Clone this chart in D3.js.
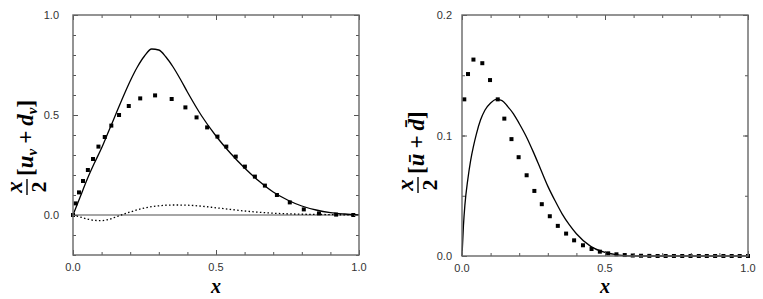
<!DOCTYPE html>
<html>
<head>
<meta charset="utf-8">
<script src="https://cdn.jsdelivr.net/npm/d3@7"></script>
<style>
    body { margin: 0; background: #fff; }
    svg { display: block; }
    .tick-label { font-family: "Liberation Sans", Arial, sans-serif; font-size: 11px; fill: #333; }
    .math { font-family: "Liberation Serif", "DejaVu Serif", serif; fill: #000; }
</style>
</head>
<body>
<div id="chart"></div>
<script>

// left panel: x/2 [u_v + d_v]
const left_curve_x = [0, 0.025, 0.05, 0.075, 0.1, 0.125, 0.15, 0.175, 0.2, 0.225, 0.25, 0.275, 0.3, 0.325, 0.35, 0.375, 0.4, 0.45, 0.5, 0.55, 0.6, 0.65, 0.7, 0.75, 0.8, 0.85, 0.9, 0.95, 1.0];
const left_curve_y = [0, 0.09, 0.18, 0.26, 0.335, 0.42, 0.505, 0.59, 0.67, 0.74, 0.795, 0.83, 0.825, 0.79, 0.74, 0.68, 0.615, 0.495, 0.395, 0.31, 0.235, 0.17, 0.115, 0.075, 0.045, 0.025, 0.012, 0.005, 0];

const left_dotted_x = [0, 0.025, 0.05, 0.075, 0.1, 0.125, 0.15, 0.175, 0.2, 0.25, 0.3, 0.35, 0.4, 0.45, 0.5, 0.55, 0.6, 0.65, 0.7, 0.75, 0.8, 0.85, 0.9, 1.0];
const left_dotted_y = [0, -0.01, -0.02, -0.027, -0.028, -0.022, -0.01, 0.003, 0.015, 0.035, 0.046, 0.05, 0.049, 0.044, 0.036, 0.028, 0.02, 0.014, 0.009, 0.006, 0.004, 0.003, 0.002, 0];

const left_points_x = [0, 0.009, 0.021, 0.035, 0.052, 0.07, 0.089, 0.111, 0.134, 0.161, 0.195, 0.235, 0.287, 0.345, 0.393, 0.432, 0.469, 0.505, 0.536, 0.569, 0.601, 0.636, 0.671, 0.713, 0.758, 0.807, 0.86, 0.92, 0.98];
const left_points_y = [0, 0.058, 0.113, 0.17, 0.225, 0.28, 0.342, 0.39, 0.447, 0.5, 0.545, 0.583, 0.598, 0.58, 0.538, 0.488, 0.438, 0.392, 0.342, 0.292, 0.242, 0.192, 0.147, 0.1, 0.063, 0.028, 0.008, 0.002, 0];

// right panel: x/2 [ubar + dbar]
const right_curve_x = [0, 0.005, 0.01, 0.02, 0.03, 0.04, 0.05, 0.065, 0.08, 0.1, 0.12, 0.14, 0.16, 0.18, 0.2, 0.225, 0.25, 0.275, 0.3, 0.325, 0.35, 0.375, 0.4, 0.45, 0.5, 0.55, 0.6, 0.7, 0.8, 0.9, 1.0];
const right_curve_y = [0, 0.025, 0.042, 0.063, 0.079, 0.091, 0.101, 0.113, 0.121, 0.127, 0.130, 0.129, 0.124, 0.118, 0.110, 0.099, 0.086, 0.072, 0.058, 0.046, 0.035, 0.026, 0.0185, 0.008, 0.003, 0.0008, 0, 0, 0, 0, 0];

const right_points_x = [0.008, 0.021, 0.04, 0.071, 0.098, 0.125, 0.148, 0.173, 0.198, 0.226, 0.253, 0.279, 0.307, 0.335, 0.364, 0.392, 0.423, 0.453, 0.482, 0.511, 0.54, 0.569, 0.597, 0.626, 0.655, 0.684, 0.712, 0.741, 0.77, 0.799, 0.828, 0.856, 0.885, 0.914, 0.943, 0.971, 1.0];
const right_points_y = [0.130, 0.151, 0.163, 0.160, 0.146, 0.130, 0.114, 0.097, 0.082, 0.067, 0.054, 0.043, 0.033, 0.025, 0.0186, 0.013, 0.0089, 0.0058, 0.0036, 0.0022, 0.0014, 0.0008, 0.0004, 0.0002, 0.0001, 0, 0, 0, 0, 0, 0, 0, 0, 0, 0, 0, 0];

const x_ticks_major = [0, 0.5, 1.0];
const left_y_ticks_major = [0, 0.5, 1.0];
const right_y_ticks_major = [0, 0.1, 0.2];

const full_width = 763;
const full_height = 299;

const svg = d3.select("#chart")
    .append("svg")
    .attr("width", full_width)
    .attr("height", full_height);

function zip(xs, ys) {
    return xs.map((x, i) => ({x: x, y: ys[i]}));
}

function drawPanel(opts) {
    let x = d3.scaleLinear().domain([0, 1]).range([opts.left, opts.right]);
    let y = d3.scaleLinear().domain(opts.y_domain).range([opts.bottom, opts.top]);

    let g = svg.append("g");

    // zero line (left panel only)
    if (opts.zero_line) {
        g.append("line")
            .attr("x1", x(0)).attr("x2", x(1))
            .attr("y1", y(0)).attr("y2", y(0))
            .attr("stroke", "#888").attr("stroke-width", 1.6);
    }

    let line = d3.line()
        .curve(d3.curveMonotoneX)
        .x(d => x(d.x))
        .y(d => y(d.y));

    if (opts.dotted) {
        g.append("path")
            .attr("d", line(opts.dotted))
            .attr("fill", "none")
            .attr("stroke", "#000")
            .attr("stroke-width", 1.3)
            .attr("stroke-dasharray", "1.5,2.3");
    }

    g.append("path")
        .attr("d", line(opts.curve))
        .attr("fill", "none")
        .attr("stroke", "#000")
        .attr("stroke-width", 1.3);

    g.selectAll("rect.pt")
        .data(opts.points)
        .enter()
        .append("rect")
        .attr("class", "pt")
        .attr("x", d => x(d.x) - 2)
        .attr("y", d => y(d.y) - 2)
        .attr("width", 4)
        .attr("height", 4)
        .attr("fill", "#000");

    // axes, ticks pointing inward on all four sides
    let minor = 3, major = 5;
    g.append("g").attr("transform", "translate(0," + opts.bottom + ")")
        .call(d3.axisBottom(x).tickValues(d3.range(0, 1.0001, 0.1)).tickSize(-minor).tickFormat(""));
    g.append("g").attr("transform", "translate(0," + opts.top + ")")
        .call(d3.axisTop(x).tickValues(d3.range(0, 1.0001, 0.1)).tickSize(-minor).tickFormat(""));
    g.append("g").attr("transform", "translate(" + opts.left + ",0)")
        .call(d3.axisLeft(y).tickValues(opts.y_minor).tickSize(-minor).tickFormat(""));
    g.append("g").attr("transform", "translate(" + opts.right + ",0)")
        .call(d3.axisRight(y).tickValues(opts.y_minor).tickSize(-minor).tickFormat(""));

    g.append("g").attr("transform", "translate(0," + opts.bottom + ")")
        .call(d3.axisBottom(x).tickValues(x_ticks_major).tickSize(-major).tickFormat(""));
    g.append("g").attr("transform", "translate(0," + opts.top + ")")
        .call(d3.axisTop(x).tickValues(x_ticks_major).tickSize(-major).tickFormat(""));
    g.append("g").attr("transform", "translate(" + opts.left + ",0)")
        .call(d3.axisLeft(y).tickValues(opts.y_major).tickSize(-major).tickFormat(""));
    g.append("g").attr("transform", "translate(" + opts.right + ",0)")
        .call(d3.axisRight(y).tickValues(opts.y_major).tickSize(-major).tickFormat(""));

    g.selectAll(".domain").remove();
    g.selectAll(".tick line").attr("stroke", "#555").attr("stroke-width", 1);

    g.append("rect")
        .attr("x", opts.left).attr("y", opts.top)
        .attr("width", opts.right - opts.left)
        .attr("height", opts.bottom - opts.top)
        .attr("fill", "none")
        .attr("stroke", "#666")
        .attr("stroke-width", 1.4);

    // tick labels
    g.selectAll("text.xl")
        .data(x_ticks_major)
        .enter()
        .append("text")
        .attr("class", "tick-label")
        .attr("x", d => x(d))
        .attr("y", opts.bottom + 16)
        .attr("text-anchor", "middle")
        .text(d3.format(".1f"));

    g.selectAll("text.yl")
        .data(opts.y_major)
        .enter()
        .append("text")
        .attr("class", "tick-label")
        .attr("x", opts.left - opts.label_gap)
        .attr("y", d => y(d) + 4)
        .attr("text-anchor", "end")
        .text(d3.format(".1f"));

    // x axis title
    g.append("text")
        .attr("class", "math")
        .attr("x", (opts.left + opts.right) / 2)
        .attr("y", 293)
        .attr("text-anchor", "middle")
        .attr("font-size", 20)
        .attr("font-style", "italic")
        .attr("font-weight", "bold")
        .text("x");

    return g;
}

// y axis titles drawn as rotated math text
function drawYTitle(cx, cy, inner) {
    let t = svg.append("g")
        .attr("class", "math")
        .attr("transform", "translate(" + cx + "," + cy + ") rotate(-90)");

    // fraction x / 2
    t.append("text").attr("x", 8).attr("y", -11)
        .attr("text-anchor", "middle")
        .attr("font-size", 23).attr("font-style", "italic").attr("font-weight", "bold")
        .text("x");
    t.append("line").attr("x1", 0).attr("x2", 16).attr("y1", -6).attr("y2", -6)
        .attr("stroke", "#000").attr("stroke-width", 1.4);
    t.append("text").attr("x", 8).attr("y", 13)
        .attr("text-anchor", "middle")
        .attr("font-size", 22).attr("font-weight", "bold")
        .text("2");

    inner(t);
}

drawPanel({
    left: 73, right: 359, top: 15, bottom: 255,
    y_domain: [-0.2, 1.0],
    y_minor: d3.range(-0.2, 1.0001, 0.1),
    y_major: left_y_ticks_major,
    label_gap: 14,
    zero_line: true,
    curve: zip(left_curve_x, left_curve_y),
    dotted: zip(left_dotted_x, left_dotted_y),
    points: zip(left_points_x, left_points_y)
});

drawPanel({
    left: 462, right: 748, top: 15, bottom: 256,
    y_domain: [0, 0.2],
    y_minor: d3.range(0, 0.2001, 0.05),
    y_major: right_y_ticks_major,
    label_gap: 10,
    zero_line: false,
    curve: zip(right_curve_x, right_curve_y),
    dotted: null,
    points: zip(right_points_x, right_points_y)
});

drawYTitle(33, 195, function (t) {
    let txt = t.append("text").attr("x", 19).attr("y", 0)
        .attr("font-size", 23).attr("font-weight", "bold");
    txt.append("tspan").text("[");
    txt.append("tspan").attr("font-style", "italic").text("u");
    txt.append("tspan").attr("font-style", "italic").attr("font-size", 15).attr("dy", 4).text("v");
    txt.append("tspan").attr("dy", -4).attr("dx", 5).text("+");
    txt.append("tspan").attr("font-style", "italic").attr("dx", 5).text("d");
    txt.append("tspan").attr("font-style", "italic").attr("font-size", 15).attr("dy", 4).text("v");
    txt.append("tspan").attr("dy", -4).text("]");
});

drawYTitle(424, 193, function (t) {
    let txt = t.append("text").attr("x", 19).attr("y", 0)
        .attr("font-size", 23).attr("font-weight", "bold");
    txt.append("tspan").text("[");
    txt.append("tspan").attr("font-style", "italic").text("\u016B");
    txt.append("tspan").attr("dx", 5).text("+");
    txt.append("tspan").attr("font-style", "italic").attr("dx", 5).text("d\u0304");
    txt.append("tspan").text("]");
});

</script>
</body>
</html>
